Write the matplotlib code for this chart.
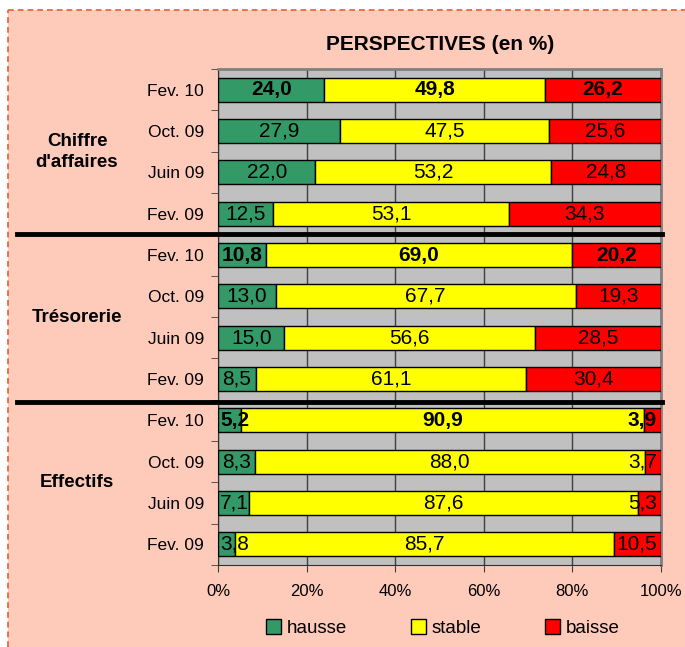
import matplotlib
matplotlib.use("Agg")
import matplotlib.pyplot as plt
import matplotlib.transforms as mtransforms
from matplotlib.patches import Rectangle
from matplotlib.lines import Line2D
import numpy as np

plt.rcParams['font.family'] = ['Liberation Sans', 'DejaVu Sans']

title = "PERSPECTIVES (en %)"
groups = ["Chiffre\nd'affaires", "Trésorerie", "Effectifs"]
periods = ["Fev. 10", "Oct. 09", "Juin 09", "Fev. 09"]
series = ["hausse", "stable", "baisse"]
colors = ["#339966", "#FFFF00", "#FF0000"]

hausse = [24.0, 27.9, 22.0, 12.5, 10.8, 13.0, 15.0, 8.5, 5.2, 8.3, 7.1, 3.8]
stable = [49.8, 47.5, 53.2, 53.1, 69.0, 67.7, 56.6, 61.1, 90.9, 88.0, 87.6, 85.7]
baisse = [26.2, 25.6, 24.8, 34.3, 20.2, 19.3, 28.5, 30.4, 3.9, 3.7, 5.3, 10.5]
xticks = [0, 20, 40, 60, 80, 100]
xtick_labels = ["0%", "20%", "40%", "60%", "80%", "100%"]

W, H = 685, 647
fig = plt.figure(figsize=(W / 100, H / 100), dpi=100)
fig.patch.set_facecolor("white")
bg = Rectangle((8 / W, 0), 1, (H - 10) / H, transform=fig.transFigure,
               facecolor="#FECBBB", edgecolor="none", zorder=-10)
fig.add_artist(bg)
border_col = "#E86A42"
for xs, ys in [([8 / W, 8 / W], [0, (H - 10) / H]), ([8 / W, 1], [(H - 10) / H, (H - 10) / H])]:
    fig.add_artist(Line2D(xs, ys, transform=fig.transFigure, color=border_col,
                          linewidth=1.3, linestyle=(0, (3.2, 2.2)), zorder=-9))

ax = fig.add_axes([218 / W, 82 / H, 443 / W, 496 / H])
ax.set_zorder(1)
ax.set_facecolor("#C0C0C0")

data = np.array([hausse, stable, baisse])
totals = data.sum(axis=0)
norm = data / totals * 100
n = data.shape[1]
ypos = np.arange(n)
row_labels = periods * len(groups)

left = np.zeros(n)
texts = []
for k in range(3):
    ax.barh(ypos, norm[k], left=left, height=0.58, color=colors[k], edgecolor="black",
            linewidth=1.0, zorder=3, label=series[k])
    for i in range(n):
        bold = (i % 4 == 0)
        t = ax.text(left[i] + norm[k][i] / 2, ypos[i], f"{data[k][i]:.1f}".replace(".", ","),
                    ha="center", va="center", fontsize=15,
                    fontweight="bold" if bold else "normal", zorder=5)
        texts.append(t)
    left += norm[k]

ax.set_xlim(0, 100)
ax.set_ylim(n - 0.5, -0.5)
ax.set_xticks(xticks)
ax.set_xticklabels(xtick_labels, fontsize=12)
ax.set_yticks(ypos)
ax.set_yticklabels(row_labels, fontsize=12.5)
ax.set_yticks(np.arange(-0.5, n, 1), minor=True)
ax.tick_params(axis="y", which="major", length=0, pad=10)
ax.tick_params(axis="y", which="minor", length=5, color="#404040", direction="out")
ax.tick_params(axis="x", length=5, color="#404040", direction="out", pad=9)
ax.xaxis.grid(True, color="#404040", linewidth=1.0, zorder=1)
ax.set_axisbelow(True)
for s in ["top", "right"]:
    ax.spines[s].set_color("#808080")
    ax.spines[s].set_linewidth(2)
ax.spines["left"].set_color("#303030")
ax.spines["bottom"].set_color("#303030")

fig.text(440 / W, (H - 44) / H, title, ha="center", va="center", fontsize=15, fontweight="bold")

blend = mtransforms.blended_transform_factory(fig.transFigure, ax.transData)
for g, name in enumerate(groups):
    fig.text(77 / W, g * 4 + 1.5, name, transform=blend, ha="center", va="center",
             fontsize=13.5, fontweight="bold", linespacing=1.3)
for yb in [3.5, 7.55]:
    fig.add_artist(Line2D([17 / W, 662 / W], [yb, yb], transform=blend, color="black",
                          linewidth=3.5, clip_on=False, zorder=10))

leg = fig.legend(loc="center", bbox_to_anchor=(443 / W, (H - 628) / H), ncol=3, frameon=False,
                 fontsize=13.5, handlelength=0.8, handleheight=0.8, handletextpad=0.3,
                 columnspacing=3.4)

# keep bar labels inside the plot area horizontally
fig.canvas.draw()
r = fig.canvas.get_renderer()
axbb = ax.get_window_extent(r)
for t in texts:
    bb = t.get_window_extent(r)
    dx = 0
    if bb.x1 > axbb.x1 - 4:
        dx = (axbb.x1 - 4) - bb.x1
    elif bb.x0 < axbb.x0 + 2:
        dx = (axbb.x0 + 2) - bb.x0
    if dx:
        x, y = t.get_position()
        xd = ax.transData.inverted().transform((ax.transData.transform((x, y))[0] + dx, 0))[0]
        t.set_x(xd)

fig.savefig("out.png", dpi=100, facecolor=fig.get_facecolor())
